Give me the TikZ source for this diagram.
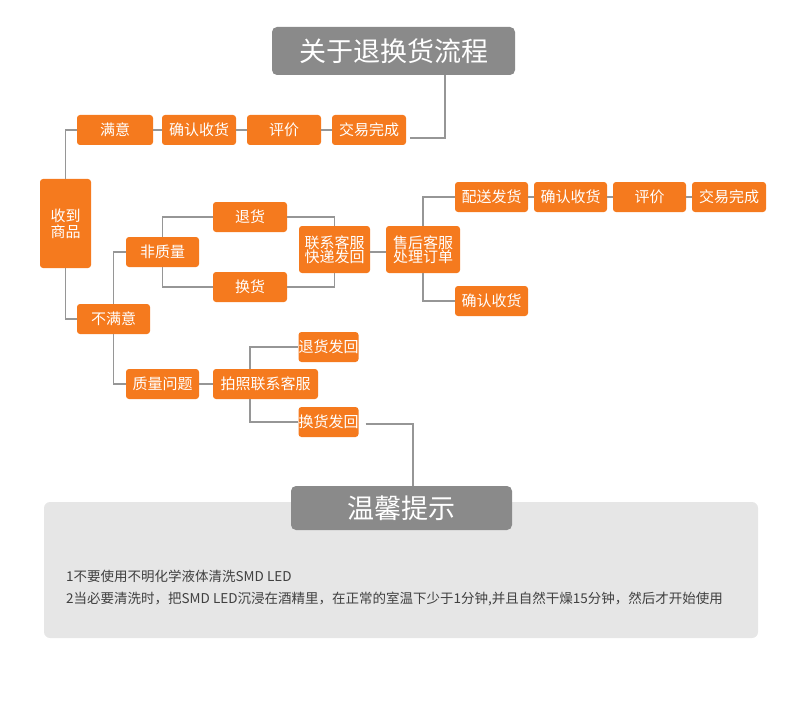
\documentclass[tikz,border=0pt]{standalone}
\usepackage{fontspec}
\setmainfont{Noto Sans CJK SC}
\definecolor{flow}{RGB}{245,122,30}
\definecolor{head}{RGB}{138,138,138}
\definecolor{wire}{RGB}{150,150,150}
\definecolor{panel}{RGB}{230,230,230}
\tikzset{
  box/.style={fill=flow,text=white,rounded corners=3pt,inner sep=0pt,
    minimum width=#1,minimum height=30pt,font=\fontsize{15}{16}\selectfont,align=center},
  box/.default=74pt,
  tall/.style={box=#1,minimum height=47pt,font=\fontsize{15}{14}\selectfont},
  hd/.style={fill=head,text=white,rounded corners=5pt,inner sep=0pt,font=\fontsize{27}{28}\selectfont},
  wire/.style={draw=wire,line width=1.4pt}
}
\begin{document}
\begin{tikzpicture}[x=1pt,y=-1pt]
  \useasboundingbox (0,0) rectangle (790,706);
  \fill[panel,rounded corners=6pt] (44,502) rectangle (758,638);
  % heads
  \node[hd,minimum width=243pt,minimum height=48pt] (title) at (393.5,51) {关于退换货流程};
  \node[hd,minimum width=221pt,minimum height=44pt] (tips) at (401.5,508) {温馨提示};
  % satisfied row
  \node[box] (got) at (65.5,223.5) [minimum width=51pt,minimum height=89pt] {收到\\商品};
  \node[box=76pt] (ok) at (115,130) {满意};
  \node[box] (ok2) at (199,130) {确认收货};
  \node[box] (ok3) at (284,130) {评价};
  \node[box] (ok4) at (369,130) {交易完成};
  % not satisfied
  \node[box=73pt] (bad) at (113.5,319) {不满意};
  \node[box=73pt] (nq) at (162.5,252) {非质量};
  \node[box] (ret) at (250,217) {退货};
  \node[box] (exc) at (250,287) {换货};
  \node[tall=71pt] (call) at (334.5,249.5) {联系客服\\快递发回};
  \node[tall=74pt] (svc) at (423,249.5) {售后客服\\处理订单};
  \node[box=73pt] (s1) at (491.5,197) {配送发货};
  \node[box=73pt] (s2) at (570.5,197) {确认收货};
  \node[box=73pt] (s3) at (649.5,197) {评价};
  \node[box] (s4) at (729,197) {交易完成};
  \node[box=73pt] (s5) at (491.5,301) {确认收货};
  \node[box=73pt] (q) at (162.5,384) {质量问题};
  \node[box=105pt] (photo) at (265.5,384) {拍照联系客服};
  \node[box=60pt] (qr) at (328.5,347) {退货发回};
  \node[box=60pt] (qe) at (328.5,422) {换货发回};
  % connectors
  \begin{scope}[wire]
    \draw (got.north) |- (ok.west);
    \draw (got.south) |- (bad.west);
    \draw (ok) -- (ok2) (ok2) -- (ok3) (ok3) -- (ok4);
    \draw (ok4.east) ++(4,8) coordinate (t0) -| (title.south -| 445,0);
    \draw (bad.north) |- (nq.west);
    \draw (bad.south) |- (q.west);
    \draw (nq.north) |- (ret.west);
    \draw (nq.south) |- (exc.west);
    \draw (ret.east) -| (call.north);
    \draw (exc.east) -| (call.south);
    \draw (call.east |- 0,252) -- (svc.west |- 0,252);
    \draw (svc.north) |- (s1.west);
    \draw (svc.south) |- (s5.west);
    \draw (s1) -- (s2) (s2) -- (s3) (s3) -- (s4);
    \draw (q) -- (photo);
    \draw (photo.north -| 250,0) |- (qr.west);
    \draw (photo.south -| 250,0) |- (qe.west);
    \draw (qe.east) ++(7,2) coordinate (t1) -| (tips.north -| 413,0);
  \end{scope}
  \node[anchor=west,text=black!75,font=\fontsize{13.5}{14}\selectfont,align=left,inner sep=0pt]
    (note) at (66,588) {1不要使用不明化学液体清洗SMD LED\\[8pt]2当必要清洗时，把SMD LED沉浸在酒精里，在正常的室温下少于1分钟,并且自然干燥15分钟，然后才开始使用};
\end{tikzpicture}
\end{document}
